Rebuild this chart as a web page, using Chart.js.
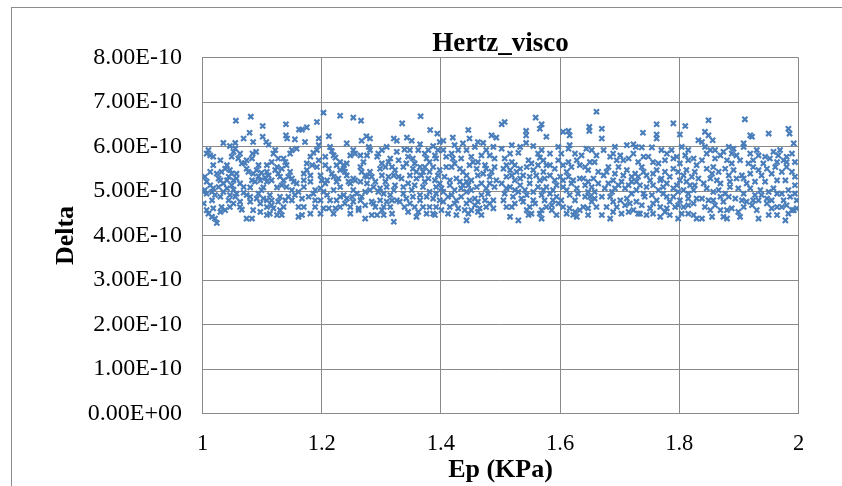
<!DOCTYPE html>
<html>
<head>
<meta charset="utf-8">
<script src="https://cdn.jsdelivr.net/npm/chart.js@4.4.1/dist/chart.umd.min.js"></script>
<style>
  html, body { margin: 0; padding: 0; background: #ffffff; }
  #wrap { width: 842px; height: 486px; position: relative; }
  canvas { display: block; }
</style>
</head>
<body>
<div id="wrap"><canvas id="c" width="842" height="486"></canvas></div>
<script>
// ---------------- DATA (Ep in KPa, Delta in units of 1e-10) ----------------
const chartTitle = 'Hertz_visco';
const xAxisTitle = 'Ep (KPa)';
const yAxisTitle = 'Delta';
const xTicks = [1, 1.2, 1.4, 1.6, 1.8, 2];
const yTicksE10 = [0, 1, 2, 3, 4, 5, 6, 7, 8];
const DELTA_UNIT = 1e-10;

const band1 = [
[1.056,6.58],[1.081,6.67],[1.101,6.46],[1.140,6.50],[1.162,6.38],[1.079,6.31],[1.069,6.18],[1.101,6.22],
[1.085,6.10],[1.107,6.10],[1.111,6.04],[1.140,6.25],[1.142,6.18],[1.155,6.16],[1.035,6.08],[1.055,6.08],
[1.046,6.01],[1.010,5.92],[1.013,5.80],[1.018,5.77],[1.052,5.88],[1.049,5.77],[1.060,5.73],[1.084,5.84],
[1.090,5.88],[1.083,5.73],[1.122,5.92],[1.119,5.84],[1.136,5.73],[1.139,5.65],[1.158,5.95],[1.150,5.92],
[1.018,5.58],[1.066,5.62],[1.071,5.63],[1.116,5.65],[1.141,5.58],[1.024,5.39],[1.038,5.50],[1.046,5.47],
[1.049,5.39],[1.044,5.32],[1.057,5.39],[1.074,5.50],[1.077,5.43],[1.091,5.47],[1.099,5.41],[1.108,5.43],
[1.111,5.35],[1.122,5.47],[1.127,5.39],[1.130,5.32],[1.147,5.43],[1.150,5.28],[1.153,5.21],[1.007,5.21],
[1.030,5.24],[1.035,5.17],[1.027,5.09],[1.063,5.17],[1.069,5.09],[1.088,5.21],[1.097,5.24],[1.108,5.21],
[1.116,5.24],[1.133,5.13],[1.141,5.09],[1.158,5.17],[1.013,5.13],[1.004,5.02],[1.018,5.06],[1.041,5.06],
[1.052,5.03],[1.080,5.08],[1.102,5.08],[1.125,5.08],[1.007,4.94],[1.016,4.79],[1.030,4.87],[1.035,4.98],
[1.046,4.91],[1.057,4.94],[1.069,4.96],[1.080,4.87],[1.094,4.94],[1.102,4.83],[1.113,4.91],[1.116,4.79],
[1.130,4.87],[1.144,4.87],[1.150,4.79],[1.002,4.72],[1.018,4.61],[1.032,4.64],[1.038,4.57],[1.052,4.72],
[1.063,4.64],[1.066,4.58],[1.080,4.76],[1.097,4.72],[1.108,4.64],[1.116,4.68],[1.136,4.64],[1.010,4.49],
[1.016,4.42],[1.021,4.38],[1.024,4.28],[1.074,4.38],[1.083,4.38],[1.097,4.53],[1.113,4.49],[1.125,4.46],
[1.133,4.46],[1.130,4.57],[1.161,4.64],[1.161,4.42],
[1.032,5.43],[1.041,5.24],[1.027,5.28],[1.052,5.24],[1.057,5.28],[1.085,5.39],[1.094,5.33],[1.105,5.30],
[1.125,5.54],[1.133,5.50],[1.136,5.24],[1.144,5.32],[1.002,4.98],[1.016,4.98],[1.044,4.79],[1.055,4.87],
[1.074,4.91],[1.091,4.83],[1.108,4.79],[1.127,4.76],[1.139,4.79],[1.155,4.91],[1.063,4.76],[1.046,4.64],
[1.030,4.53],[1.007,4.57],[1.085,4.57],[1.108,4.46],[1.119,4.61],[1.055,5.95],[1.063,5.84],[1.074,5.69],
[1.094,5.58],[1.108,5.58],[1.127,5.73],[1.147,5.84],[1.007,5.84],[1.030,5.69],[1.041,5.58],[1.013,5.43],
[1.004,5.32],[1.021,4.91],[1.049,5.13],[1.083,5.24],[1.099,5.02],[1.150,5.02],[1.161,4.98]
];

const band2 = [
[1.203,6.76],[1.231,6.69],[1.253,6.65],[1.266,6.58],[1.192,6.55],[1.175,6.43],[1.167,6.38],[1.212,6.23],
[1.195,6.18],[1.275,6.23],[1.281,6.18],[1.267,6.13],[1.172,6.10],[1.321,6.18],[1.326,6.13],[1.214,5.99],
[1.195,6.03],[1.192,5.92],[1.186,5.86],[1.181,5.77],[1.217,5.90],[1.220,5.80],[1.223,5.75],[1.253,5.92],
[1.256,5.84],[1.248,5.80],[1.279,5.99],[1.281,5.92],[1.295,5.84],[1.293,5.77],[1.315,5.73],[1.312,5.65],
[1.326,5.88],[1.231,5.65],[1.237,5.58],[1.242,5.62],[1.270,5.65],[1.175,5.47],[1.170,5.39],[1.192,5.54],
[1.198,5.35],[1.200,5.24],[1.217,5.39],[1.220,5.32],[1.237,5.50],[1.239,5.43],[1.253,5.28],[1.256,5.24],
[1.267,5.43],[1.273,5.35],[1.284,5.32],[1.298,5.50],[1.301,5.35],[1.307,5.21],[1.318,5.54],[1.321,5.35],
[1.329,5.32],[1.181,5.21],[1.206,5.17],[1.225,5.21],[1.231,5.09],[1.248,5.17],[1.265,5.21],[1.276,5.17],
[1.287,5.09],[1.309,5.09],[1.323,5.13],[1.170,5.09],[1.189,5.02],[1.198,5.06],[1.203,4.98],[1.220,5.02],
[1.237,4.91],[1.259,4.94],[1.267,4.87],[1.281,5.02],[1.295,4.98],[1.304,4.94],[1.315,4.91],[1.167,4.83],
[1.178,4.87],[1.189,4.79],[1.198,4.79],[1.209,4.91],[1.225,4.79],[1.242,4.83],[1.251,4.87],[1.265,4.79],
[1.284,4.76],[1.298,4.79],[1.318,4.79],[1.170,4.64],[1.189,4.64],[1.203,4.61],[1.212,4.61],[1.223,4.61],
[1.231,4.64],[1.248,4.64],[1.262,4.61],[1.287,4.72],[1.290,4.64],[1.304,4.64],[1.315,4.64],[1.167,4.46],
[1.181,4.49],[1.262,4.57],[1.273,4.38],[1.284,4.46],[1.293,4.46],[1.304,4.46],[1.318,4.49],[1.321,4.31],
[1.225,5.58],[1.231,5.47],[1.242,5.35],[1.228,5.28],[1.212,5.50],[1.206,5.58],[1.184,5.58],[1.175,5.62],
[1.265,5.54],[1.276,5.32],[1.281,5.43],[1.290,5.21],[1.301,5.62],[1.307,5.54],[1.312,5.32],[1.323,5.47],
[1.329,5.69],[1.186,4.94],[1.214,4.79],[1.231,4.87],[1.253,5.02],[1.273,4.98],[1.298,5.06],[1.321,5.02],
[1.239,4.72],[1.253,4.76],[1.273,4.68],[1.309,4.76],[1.326,4.79],[1.198,4.49],[1.220,4.49],[1.248,4.49],
[1.301,4.57],[1.181,5.35],[1.209,5.24],[1.245,5.21],[1.170,5.24],[1.195,5.69],[1.206,5.77],[1.265,5.80],
[1.276,5.80],[1.309,5.99],[1.301,5.92],[1.242,6.07]
];

const band3 = [
[1.366,6.68],[1.335,6.52],[1.382,6.37],[1.394,6.29],[1.446,6.37],[1.420,6.20],[1.448,6.18],[1.485,6.25],
[1.493,6.20],[1.343,6.20],[1.351,6.13],[1.365,6.05],[1.387,6.01],[1.404,6.13],[1.398,6.10],[1.423,6.03],
[1.437,6.07],[1.462,6.10],[1.471,6.08],[1.339,5.93],[1.345,5.77],[1.353,5.73],[1.362,5.92],[1.373,5.84],
[1.376,5.73],[1.381,5.65],[1.390,5.80],[1.392,5.73],[1.404,5.92],[1.409,5.77],[1.418,5.84],[1.420,5.73],
[1.434,5.73],[1.451,5.77],[1.454,5.65],[1.468,5.80],[1.482,5.80],[1.490,5.73],[1.418,5.54],[1.432,5.50],
[1.448,5.58],[1.462,5.65],[1.337,5.54],[1.353,5.50],[1.359,5.43],[1.370,5.43],[1.348,5.35],[1.367,5.35],
[1.379,5.28],[1.390,5.24],[1.398,5.17],[1.406,5.32],[1.426,5.28],[1.432,5.21],[1.443,5.21],[1.451,5.24],
[1.462,5.35],[1.471,5.39],[1.476,5.50],[1.485,5.43],[1.493,5.24],[1.334,5.28],[1.337,5.09],[1.345,5.17],
[1.356,5.13],[1.370,5.09],[1.381,4.98],[1.392,5.09],[1.401,5.06],[1.415,5.13],[1.423,5.02],[1.434,5.06],
[1.446,5.13],[1.460,5.09],[1.482,5.17],[1.490,5.09],[1.337,4.94],[1.342,4.83],[1.353,4.87],[1.365,4.91],
[1.376,4.87],[1.387,4.83],[1.404,4.98],[1.412,4.87],[1.426,4.79],[1.434,4.87],[1.443,4.98],[1.457,4.83],
[1.468,4.91],[1.479,4.94],[1.488,4.79],[1.331,4.76],[1.348,4.72],[1.356,4.64],[1.362,4.53],[1.381,4.64],
[1.387,4.49],[1.404,4.76],[1.415,4.64],[1.429,4.61],[1.440,4.57],[1.443,4.72],[1.457,4.68],[1.465,4.61],
[1.476,4.64],[1.488,4.61],[1.359,4.42],[1.390,4.46],[1.412,4.49],[1.443,4.34],[1.446,4.49],[1.462,4.53],
[1.342,5.62],[1.356,5.62],[1.365,5.54],[1.373,5.54],[1.381,5.43],[1.387,5.54],[1.398,5.47],[1.409,5.54],
[1.423,5.62],[1.437,5.43],[1.443,5.35],[1.460,5.50],[1.474,5.58],[1.482,5.32],[1.490,5.54],[1.359,5.28],
[1.373,5.21],[1.395,5.35],[1.415,5.24],[1.437,5.13],[1.451,5.02],[1.468,5.17],[1.476,5.06],[1.351,5.02],
[1.365,4.79],[1.392,4.94],[1.398,4.79],[1.418,4.91],[1.448,4.79],[1.462,4.76],[1.474,4.79],[1.339,4.64],
[1.370,4.64],[1.392,4.64],[1.401,4.57],[1.423,4.72],[1.451,4.57],[1.482,4.72],[1.345,4.53],[1.376,4.49],
[1.426,4.46],[1.468,4.46],[1.348,5.92],[1.379,5.92],[1.395,5.92],[1.429,5.92],[1.443,5.92],[1.476,5.92],
[1.488,5.99],[1.457,5.99]
];

const band4 = [
[1.559,6.65],[1.507,6.55],[1.502,6.50],[1.569,6.50],[1.566,6.40],[1.543,6.35],[1.543,6.25],[1.577,6.22],
[1.661,6.78],[1.649,6.44],[1.649,6.35],[1.605,6.33],[1.614,6.35],[1.616,6.25],[1.519,6.03],[1.502,5.95],
[1.530,5.86],[1.543,6.08],[1.555,6.01],[1.563,5.84],[1.566,5.75],[1.597,5.99],[1.616,6.03],[1.614,5.95],
[1.636,5.80],[1.653,5.92],[1.661,5.80],[1.507,5.73],[1.519,5.65],[1.547,5.69],[1.552,5.62],[1.572,5.69],
[1.583,5.58],[1.597,5.69],[1.614,5.65],[1.628,5.69],[1.633,5.58],[1.658,5.65],[1.505,5.50],[1.516,5.47],
[1.527,5.43],[1.538,5.35],[1.510,5.32],[1.524,5.24],[1.555,5.47],[1.560,5.35],[1.572,5.43],[1.574,5.28],
[1.583,5.35],[1.591,5.24],[1.600,5.32],[1.611,5.43],[1.622,5.24],[1.633,5.28],[1.647,5.47],[1.656,5.28],
[1.664,5.43],[1.502,5.17],[1.516,5.09],[1.533,5.13],[1.549,5.17],[1.563,5.09],[1.577,5.09],[1.594,5.13],
[1.605,5.09],[1.619,5.17],[1.642,5.13],[1.653,5.09],[1.664,5.17],[1.507,4.94],[1.521,4.87],[1.530,4.98],
[1.544,4.91],[1.555,4.79],[1.569,4.91],[1.583,4.94],[1.594,4.87],[1.602,4.79],[1.616,4.91],[1.630,4.94],
[1.642,4.87],[1.658,4.83],[1.510,4.64],[1.524,4.72],[1.538,4.76],[1.549,4.64],[1.558,4.72],[1.569,4.57],
[1.586,4.68],[1.597,4.72],[1.616,4.61],[1.625,4.53],[1.639,4.64],[1.653,4.76],[1.661,4.64],[1.516,4.42],
[1.530,4.34],[1.547,4.46],[1.566,4.49],[1.586,4.57],[1.594,4.46],[1.622,4.46],[1.628,4.42],[1.633,4.57],
[1.569,4.38],
[1.510,5.58],[1.524,5.58],[1.533,5.50],[1.544,5.54],[1.563,5.58],[1.577,5.58],[1.591,5.50],[1.605,5.58],
[1.619,5.54],[1.642,5.54],[1.650,5.65],[1.519,5.35],[1.533,5.28],[1.549,5.32],[1.566,5.24],[1.605,5.24],
[1.614,5.32],[1.639,5.28],[1.647,5.21],[1.510,5.06],[1.524,5.02],[1.541,5.02],[1.555,4.98],[1.572,5.02],
[1.588,5.02],[1.611,5.02],[1.628,5.06],[1.647,4.98],[1.658,4.98],[1.505,4.79],[1.535,4.83],[1.574,4.79],
[1.588,4.79],[1.625,4.79],[1.650,4.87],[1.519,4.64],[1.544,4.57],[1.577,4.64],[1.605,4.64],[1.647,4.61],
[1.552,4.49],[1.611,4.49],[1.647,4.46],[1.533,5.99],[1.569,5.92],[1.583,5.84],[1.602,5.84],[1.625,5.84],
[1.644,5.95],[1.516,5.84]
];

const band5 = [
[1.762,6.50],[1.790,6.52],[1.810,6.46],[1.739,6.31],[1.762,6.27],[1.762,6.18],[1.801,6.27],[1.670,6.40],
[1.670,6.18],[1.692,5.99],[1.712,6.03],[1.723,6.05],[1.727,5.99],[1.737,5.98],[1.754,5.98],[1.770,5.92],
[1.787,5.92],[1.804,5.99],[1.815,5.92],[1.832,6.14],[1.673,5.92],[1.689,5.84],[1.701,5.80],[1.706,5.69],
[1.723,5.84],[1.740,5.77],[1.756,5.65],[1.765,5.62],[1.776,5.69],[1.796,5.77],[1.810,5.80],[1.824,5.73],
[1.829,5.58],[1.681,5.54],[1.698,5.54],[1.712,5.47],[1.726,5.39],[1.737,5.54],[1.740,5.43],[1.756,5.39],
[1.770,5.28],[1.784,5.32],[1.798,5.43],[1.812,5.47],[1.821,5.32],[1.832,5.28],[1.673,5.35],[1.689,5.24],
[1.703,5.21],[1.720,5.21],[1.734,5.13],[1.751,5.24],[1.768,5.24],[1.779,5.17],[1.801,5.24],[1.812,5.21],
[1.826,5.13],[1.675,5.06],[1.692,5.06],[1.709,5.06],[1.728,5.02],[1.745,5.09],[1.765,5.02],[1.790,5.06],
[1.807,5.02],[1.824,5.02],[1.670,4.87],[1.684,4.87],[1.701,4.79],[1.712,4.83],[1.728,4.76],[1.742,4.87],
[1.762,4.79],[1.779,4.87],[1.790,4.87],[1.801,4.79],[1.815,4.83],[1.829,4.83],[1.678,4.64],[1.695,4.64],
[1.709,4.68],[1.723,4.57],[1.734,4.49],[1.751,4.61],[1.768,4.64],[1.779,4.61],[1.793,4.64],[1.807,4.64],
[1.824,4.72],[1.670,4.46],[1.684,4.38],[1.715,4.53],[1.731,4.49],[1.768,4.42],[1.784,4.46],[1.798,4.38],
[1.815,4.49],[1.829,4.38],
[1.684,5.77],[1.695,5.69],[1.715,5.73],[1.731,5.65],[1.748,5.77],[1.779,5.84],[1.790,5.73],[1.801,5.62],
[1.815,5.69],[1.678,5.43],[1.692,5.39],[1.706,5.35],[1.720,5.32],[1.731,5.32],[1.745,5.35],[1.762,5.47],
[1.776,5.43],[1.790,5.50],[1.807,5.35],[1.826,5.43],[1.681,5.17],[1.698,5.13],[1.715,5.13],[1.728,5.21],
[1.756,5.13],[1.773,5.09],[1.796,5.13],[1.818,5.13],[1.687,4.98],[1.720,4.94],[1.740,4.94],[1.754,4.91],
[1.773,4.94],[1.798,4.98],[1.815,4.94],[1.689,4.76],[1.717,4.72],[1.737,4.68],[1.756,4.72],[1.784,4.76],
[1.798,4.68],[1.815,4.68],[1.689,4.53],[1.703,4.49],[1.745,4.46],[1.756,4.49],[1.776,4.53],[1.804,4.49],
[1.824,4.46]
];

const band6 = [
[1.849,6.59],[1.910,6.61],[1.843,6.33],[1.849,6.25],[1.856,6.14],[1.838,6.10],[1.843,5.99],[1.852,5.92],
[1.919,6.25],[1.922,6.22],[1.950,6.29],[1.983,6.40],[1.985,6.29],[1.992,6.07],[1.908,6.07],[1.908,5.99],
[1.883,5.99],[1.891,5.95],[1.874,5.88],[1.869,5.80],[1.888,5.84],[1.919,5.84],[1.930,5.92],[1.933,5.80],
[1.944,5.77],[1.958,5.88],[1.966,5.80],[1.975,5.69],[1.989,5.84],[1.860,5.73],[1.880,5.69],[1.888,5.62],
[1.916,5.62],[1.941,5.62],[1.964,5.65],[1.980,5.65],[1.838,5.69],[1.857,5.54],[1.877,5.50],[1.891,5.47],
[1.852,5.28],[1.863,5.24],[1.855,5.39],[1.905,5.35],[1.919,5.39],[1.908,5.28],[1.933,5.47],[1.947,5.50],
[1.955,5.39],[1.972,5.43],[1.989,5.43],[1.927,5.21],[1.944,5.21],[1.964,5.24],[1.978,5.24],[1.994,5.13],
[1.846,5.06],[1.866,5.02],[1.885,5.09],[1.899,5.06],[1.919,5.06],[1.936,5.02],[1.958,5.06],[1.983,5.02],
[1.838,4.83],[1.849,4.79],[1.869,4.87],[1.883,4.87],[1.894,4.83],[1.905,4.79],[1.924,4.79],[1.938,4.91],
[1.947,4.83],[1.964,4.94],[1.986,4.87],[1.997,4.79],[1.843,4.64],[1.860,4.68],[1.869,4.57],[1.888,4.61],
[1.908,4.64],[1.922,4.68],[1.947,4.72],[1.955,4.61],[1.972,4.64],[1.989,4.57],[1.997,4.61],[1.838,4.38],
[1.855,4.42],[1.874,4.42],[1.880,4.38],[1.933,4.38],[1.964,4.46],[1.978,4.34],[1.983,4.49],[1.992,4.57],
[1.846,5.84],[1.860,5.92],[1.896,5.80],[1.902,5.69],[1.924,5.69],[1.952,5.73],[1.969,5.92],[1.980,5.77],
[1.994,5.65],[1.846,5.50],[1.866,5.43],[1.883,5.35],[1.896,5.28],[1.869,5.17],[1.885,5.21],[1.913,5.17],
[1.924,5.54],[1.938,5.35],[1.961,5.54],[1.980,5.54],[1.994,5.32],[1.841,5.17],[1.857,4.98],[1.877,4.94],
[1.908,4.94],[1.927,4.91],[1.950,4.98],[1.972,4.94],[1.994,4.94],[1.857,4.79],[1.874,4.76],[1.913,4.76],
[1.933,4.79],[1.955,4.79],[1.975,4.79],[1.852,4.57],[1.880,4.57],[1.899,4.53],[1.930,4.57],[1.964,4.64],
[1.980,4.68],[1.902,4.42],[1.950,4.46]
];

// ---------------- CHART ----------------
const bands = [band1, band2, band3, band4, band5, band6];
const points = [];
bands.forEach(b => b.forEach(p => points.push({ x: p[0], y: p[1] * DELTA_UNIT })));

function fmtExp(v) {
  if (Math.abs(v) < 1e-20) return '0.00E+00';
  const s = v.toExponential(2);
  const parts = s.split('e');
  let exp = parseInt(parts[1], 10);
  const sign = exp < 0 ? '-' : '+';
  exp = Math.abs(exp);
  return parts[0] + 'E' + sign + (exp < 10 ? '0' + exp : String(exp));
}

const SERIF = "'Liberation Serif', 'Times New Roman', serif";
const GRID = '#898989';

const outerFrame = {
  id: 'outerFrame',
  beforeDraw(chart) {
    const ctx = chart.ctx;
    ctx.save();
    ctx.fillStyle = '#ffffff';
    ctx.fillRect(0, 0, chart.width, chart.height);
    ctx.strokeStyle = '#8c8c8c';
    ctx.lineWidth = 1;
    ctx.strokeRect(11.5, 7.5, 900, 600);
    ctx.restore();
  }
};

new Chart(document.getElementById('c'), {
  type: 'scatter',
  data: {
    datasets: [{
      label: 'Delta',
      data: points,
      pointStyle: 'crossRot',
      radius: 3.6,
      hoverRadius: 3.6,
      borderWidth: 2.2,
      borderColor: '#4A7EBB',
      backgroundColor: '#4A7EBB'
    }]
  },
  options: {
    responsive: false,
    animation: false,
    devicePixelRatio: 1,
    events: [],
    layout: { padding: { left: 0, right: 43.5, top: 0, bottom: 0 } },
    plugins: {
      legend: { display: false },
      tooltip: { enabled: false },
      title: {
        display: true,
        text: chartTitle,
        fullSize: false,
        color: '#000000',
        font: { family: SERIF, size: 27, weight: 'bold', lineHeight: 1 },
        padding: { top: 30.5, bottom: 0 }
      }
    },
    scales: {
      x: {
        type: 'linear',
        min: xTicks[0],
        max: xTicks[xTicks.length - 1],
        afterFit: s => { s.height = 72.5; },
        afterBuildTicks: s => { s.ticks = xTicks.map(v => ({ value: v })); },
        ticks: {
          callback: v => String(+Number(v).toFixed(2)),
          color: '#000000',
          font: { family: SERIF, size: 22.5 },
          padding: 17,
          maxRotation: 0,
          autoSkip: false
        },
        grid: { color: GRID, lineWidth: 1, drawTicks: false },
        border: { color: GRID, width: 1 },
        title: {
          display: true,
          text: xAxisTitle,
          color: '#000000',
          font: { family: SERIF, size: 26, weight: 'bold', lineHeight: 1.2 },
          padding: { top: 0, bottom: 0 }
        }
      },
      y: {
        type: 'linear',
        min: 0,
        max: yTicksE10[yTicksE10.length - 1] * DELTA_UNIT,
        afterFit: s => { s.width = 202.5; },
        afterBuildTicks: s => { s.ticks = yTicksE10.map(v => ({ value: v * DELTA_UNIT })); },
        ticks: {
          callback: v => fmtExp(v),
          color: '#000000',
          font: { family: SERIF, size: 24 },
          padding: 20.5,
          autoSkip: false
        },
        grid: { color: GRID, lineWidth: 1, drawTicks: false },
        border: { color: GRID, width: 1 },
        title: {
          display: true,
          text: yAxisTitle,
          color: '#000000',
          font: { family: SERIF, size: 26, weight: 'bold', lineHeight: 1.2 },
          padding: { top: 50.4, bottom: 0 }
        }
      }
    }
  },
  plugins: [outerFrame]
});
</script>
</body>
</html>
